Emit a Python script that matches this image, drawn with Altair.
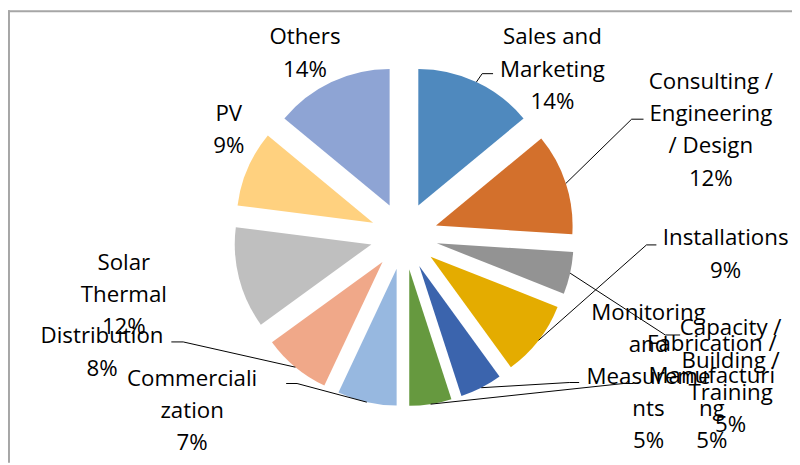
import altair as alt
import numpy as np
import pandas as pd

# ---------------- data ----------------
categories = [
    "Sales and Marketing",
    "Consulting / Engineering / Design",
    "Capacity Building / Training",
    "Installations",
    "Monitoring and Measurements",
    "Fabrication / Manufacturing",
    "Commercialization",
    "Distribution",
    "Solar Thermal",
    "PV",
    "Others",
]
shares = [14, 12, 5, 9, 5, 5, 7, 8, 12, 9, 14]

# label wrapping as shown in the chart
label_lines = [
    ["Sales and", "Marketing"],
    ["Consulting /", "Engineering", "/ Design"],
    ["Capacity /", "Building /", "Training"],
    ["Installations"],
    ["Monitoring", "and", "Measureme", "nts"],
    ["Fabrication /", "Manufacturi", "ng"],
    ["Commerciali", "zation"],
    ["Distribution"],
    ["Solar", "Thermal"],
    ["PV"],
    ["Others"],
]

# ---------------- styles / layout ----------------
colors = ["#4F89BE", "#D3702C", "#939393", "#E4AC00", "#3B64AD", "#66993F",
          "#97B8E0", "#F0A889", "#BFBFBF", "#FFD17F", "#8EA4D4"]
W, H = 792, 457
CX, CY = 400, 228       # pie centre (px)
R = 138                 # pie radius (px)
EXPLODE = 34            # explosion distance (px)
FONT = "Open Sans"
FS = 22.5
LH = 32.5

# label anchor: centre x, centre y of first line (px)
label_anchor = [
    (550, 27), (710, 72), (730, 321), (725, 230), (647, 305), (711, 337),
    (186, 372), (95, 329), (117, 255), (223, 104), (300, 27),
]
# leader line elbow and end (px); None = no leader
leader = [
    ((479, 64), (490, 64)),
    ((630, 110), (642, 110)),
    ((664, 328), (679, 328)),
    ((645, 237), (655, 237)),
    ((567, 376), (577, 376)),
    ((622, 377), (632, 377)),
    ((292, 377), (281, 377)),
    ((177, 335), (165, 335)),
    None, None, None,
]

# ---------------- geometry from the data ----------------
vals = np.array(shares, dtype=float)
total = vals.sum()
ends = np.cumsum(vals) / total * 2 * np.pi
starts = ends - vals / total * 2 * np.pi
mids = (starts + ends) / 2
cxs = CX + EXPLODE * np.sin(mids)
cys = CY - EXPLODE * np.cos(mids)

slices = pd.DataFrame({
    "category": categories,
    "share": shares,
    "t0": starts,
    "t1": ends,
    "cx": cxs,
    "cy": cys,
})

texts = pd.DataFrame({
    "category": categories,
    "label": ["\n".join(l + [f"{s}%"]) for l, s in zip(label_lines, shares)],
    "x": [a[0] for a in label_anchor],
    "y": [a[1] + 7.5 for a in label_anchor],
})

seg_rows = []
for i, ld in enumerate(leader):
    if ld is None:
        continue
    px = cxs[i] + R * np.sin(mids[i])
    py = cys[i] - R * np.cos(mids[i])
    (ex, ey), (fx, fy) = ld
    seg_rows.append({"x": px, "y": py, "x2": ex, "y2": ey})
    seg_rows.append({"x": ex, "y": ey, "x2": fx, "y2": fy})
segs = pd.DataFrame(seg_rows)

frame = pd.DataFrame([
    {"x": 0, "y": 1, "x2": W, "y2": 1},
    {"x": 1, "y": 0, "x2": 1, "y2": H},
])

pie = alt.Chart(slices).mark_arc(radius=R).encode(
    theta=alt.Theta("t0:Q", scale=None, stack=None),
    theta2="t1:Q",
    x=alt.X("cx:Q", scale=None, axis=None),
    y=alt.Y("cy:Q", scale=None, axis=None),
    color=alt.Color("category:N", scale=alt.Scale(domain=categories, range=colors), legend=None),
)

lines = alt.Chart(segs).mark_rule(color="black", strokeWidth=1).encode(
    x=alt.X("x:Q", scale=None, axis=None),
    y=alt.Y("y:Q", scale=None, axis=None),
    x2="x2:Q",
    y2="y2:Q",
)

labels = alt.Chart(texts).mark_text(
    align="center", baseline="alphabetic", lineBreak="\n", lineHeight=LH,
    font=FONT, fontSize=FS, color="black",
).encode(
    x=alt.X("x:Q", scale=None, axis=None),
    y=alt.Y("y:Q", scale=None, axis=None),
    text="label:N",
)

border = alt.Chart(frame).mark_rule(color="#A6A6A6", strokeWidth=2).encode(
    x=alt.X("x:Q", scale=None, axis=None),
    y=alt.Y("y:Q", scale=None, axis=None),
    x2="x2:Q",
    y2="y2:Q",
)

chart = alt.layer(border, pie, lines, labels).properties(
    width=W, height=H, autosize=alt.AutoSizeParams(type="none"), padding=0,
).configure_view(stroke=None)

chart.save("out.html", embed_options={"renderer": "svg", "actions": False})
